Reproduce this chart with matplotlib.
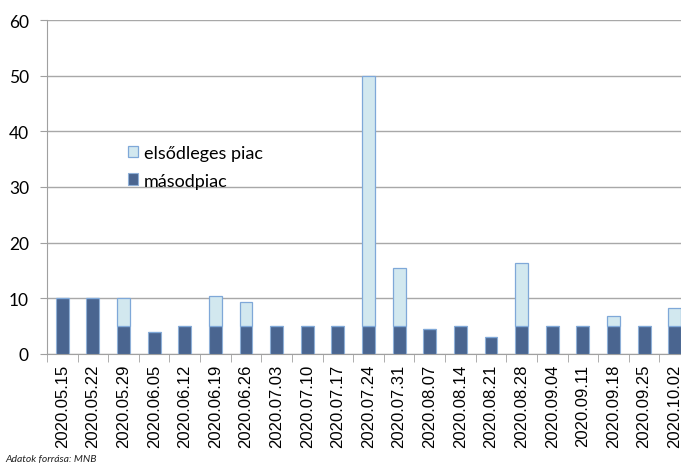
import matplotlib.pyplot as plt
import numpy as np

dates = ["2020.05.15", "2020.05.22", "2020.05.29", "2020.06.05", "2020.06.12",
         "2020.06.19", "2020.06.26", "2020.07.03", "2020.07.10", "2020.07.17",
         "2020.07.24", "2020.07.31", "2020.08.07", "2020.08.14", "2020.08.21",
         "2020.08.28", "2020.09.04", "2020.09.11", "2020.09.18", "2020.09.25",
         "2020.10.02"]
masodpiac = [10, 10, 5, 4, 5, 5, 5, 5, 5, 5, 5, 5, 4.5, 5, 3, 5, 5, 5, 5, 5, 5]
elsodleges = [0, 0, 5, 0, 0, 5.5, 4.4, 0, 0, 0, 45, 10.4, 0, 0, 0, 11.4, 0, 0, 1.9, 0, 3.3]

plt.rcParams['font.family'] = ['Lato', 'DejaVu Sans']

fig = plt.figure(figsize=(6.81, 4.64), dpi=100)
ax = fig.add_axes([47 / 681, (464 - 355) / 464, 643 / 681, 334 / 464])

x = np.arange(len(dates))
dark = '#4a6590'
light = '#d2e8ef'
ax.bar(x, masodpiac, width=0.42, color=dark, edgecolor='#8fb0d8', linewidth=0.8,
       label='másodpiac', zorder=3)
ax.bar(x, elsodleges, bottom=masodpiac, width=0.42, color=light, edgecolor='#7fa8d8',
       linewidth=0.9, label='elsődleges piac', zorder=3)

ax.set_xlim(-0.5, len(dates) - 0.5)
ax.set_ylim(0, 60)
ax.set_yticks(range(0, 61, 10))
ax.tick_params(axis='y', labelsize=12.5, length=5, color='#a0a0a0', pad=8)
ax.yaxis.grid(True, color='#a8a8a8', linewidth=1.0, zorder=0)

ax.set_xticks(x)
ax.set_xticklabels(dates, rotation=90, fontsize=12, family='Liberation Sans')
ax.tick_params(axis='x', length=0, pad=7)
ax.set_xticks(np.arange(-0.5, len(dates), 1), minor=True)
ax.tick_params(axis='x', which='minor', length=6, color='#a0a0a0')

for s in ['top', 'right']:
    ax.spines[s].set_visible(False)
for s in ['left', 'bottom']:
    ax.spines[s].set_color('#a0a0a0')

h, l = ax.get_legend_handles_labels()
ax.legend(h[::-1], l[::-1], loc='upper left', bbox_to_anchor=(0.1, 0.675), frameon=False,
          fontsize=13, handlelength=0.6, handleheight=0.6, handletextpad=0.3,
          labelspacing=0.65)

fig.text(0.008, 0.004, 'Adatok forrása: MNB', fontsize=7.5, style='italic', color='#222222')

fig.savefig('out.png', dpi=100)
